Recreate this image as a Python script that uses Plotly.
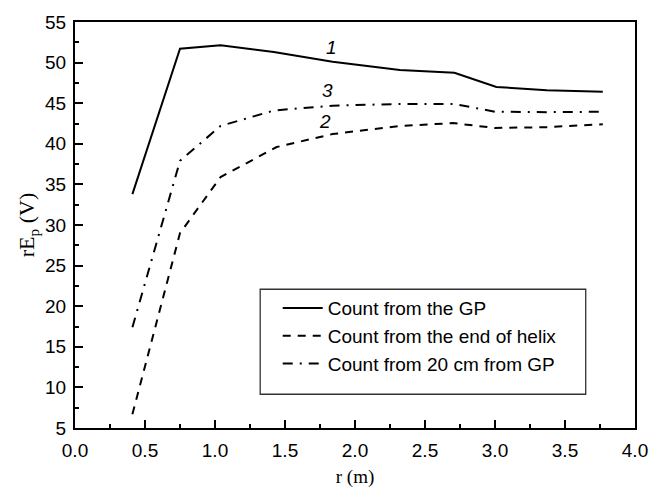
import plotly.graph_objects as go

r1 = [0.41, 0.75, 1.04, 1.42, 1.84, 2.32, 2.71, 3.01, 3.37, 3.77]
v1 = [33.8, 51.7, 52.15, 51.3, 50.1, 49.1, 48.75, 47.0, 46.6, 46.4]

r2 = [0.41, 0.75, 1.04, 1.44, 1.84, 2.32, 2.70, 3.00, 3.37, 3.77]
v2 = [6.7, 29.0, 35.9, 39.6, 41.2, 42.2, 42.55, 41.95, 42.05, 42.4]

r3 = [0.41, 0.75, 1.04, 1.42, 1.84, 2.32, 2.71, 3.00, 3.37, 3.77]
v3 = [17.4, 37.9, 42.2, 44.1, 44.7, 44.9, 44.9, 43.95, 43.9, 43.95]

names = ["Count from the GP", "Count from the end of helix", "Count from 20 cm from GP"]
curve_labels = ["1", "2", "3"]
label_pos_r = [1.834, 1.785, 1.80]
label_pos_v = [51.85, 42.76, 46.6]

W, H = 651, 488
ml, mr, mt, mb = 75, 16, 16, 60

fig = go.Figure()
dashes = ["solid", "8px,7px", "10px,7px,2px,7px"]
for r, v, n, d in zip([r1, r2, r3], [v1, v2, v3], names, dashes):
    fig.add_trace(go.Scatter(x=r, y=v, mode="lines", name=n,
                             line=dict(color="black", width=2, dash=d)))

for t, x, y in zip(curve_labels, label_pos_r, label_pos_v):
    fig.add_annotation(x=x, y=y, text="<i>" + t + "</i>", showarrow=False,
                       font=dict(family="Liberation Sans, Arial", size=19, color="black"),
                       xanchor="center", yanchor="middle")

tickfont = dict(family="Liberation Sans, Arial", size=19, color="black")

fig.update_layout(
    width=W, height=H,
    margin=dict(l=ml, r=mr, t=mt, b=mb),
    paper_bgcolor="white", plot_bgcolor="white",
    showlegend=True,
    legend=dict(x=0.362, y=0.342, xanchor="left", yanchor="top",
                bgcolor="rgba(0,0,0,0)", borderwidth=0,
                font=dict(family="Liberation Sans, Arial", size=19, color="black"),
                itemwidth=40, tracegroupgap=0),
    xaxis=dict(range=[0, 4], dtick=0.5, tick0=0, tickformat=".1f",
               showgrid=False, zeroline=False, automargin=False,
               showline=True, linecolor="black", linewidth=2, mirror=True,
               ticks="inside", ticklen=8, tickwidth=1.5, tickcolor="black",
               minor=dict(dtick=0.25, ticks="inside", ticklen=4, tickwidth=1.5, tickcolor="black", showgrid=False),
               tickfont=tickfont, ticklabelstandoff=4,
               title=dict(text="r (m)", font=dict(family="Liberation Serif, Times New Roman", size=19, color="black"))),
    yaxis=dict(range=[5, 55], dtick=5, tick0=5,
               showgrid=False, zeroline=False, automargin=True,
               showline=True, linecolor="black", linewidth=2, mirror=True,
               ticks="inside", ticklen=8, tickwidth=1.5, tickcolor="black",
               minor=dict(dtick=2.5, ticks="inside", ticklen=4, tickwidth=1.5, tickcolor="black", showgrid=False),
               tickfont=tickfont, ticklabelstandoff=3,
               title=dict(text="rE<sub>p</sub> (V)", font=dict(family="Liberation Serif, Times New Roman", size=22, color="black"), standoff=4)),
    xaxis2=dict(range=[0, 4], overlaying="x", side="top", dtick=0.25, tick0=0,
                showgrid=False, zeroline=False, showticklabels=False, automargin=False,
                ticks="inside", ticklen=4, tickwidth=1.5, tickcolor="black"),
    yaxis2=dict(range=[5, 55], overlaying="y", side="right", dtick=2.5, tick0=5,
                showgrid=False, zeroline=False, showticklabels=False, automargin=False,
                ticks="inside", ticklen=4, tickwidth=1.5, tickcolor="black"),
)

fig.add_shape(type="rect", xref="paper", yref="paper",
              x0=0.3307, x1=0.912, y0=0.0831, y1=0.3417,
              line=dict(color="#333333", width=1.3), fillcolor="rgba(0,0,0,0)", layer="below")

fig.write_html("out.html")
